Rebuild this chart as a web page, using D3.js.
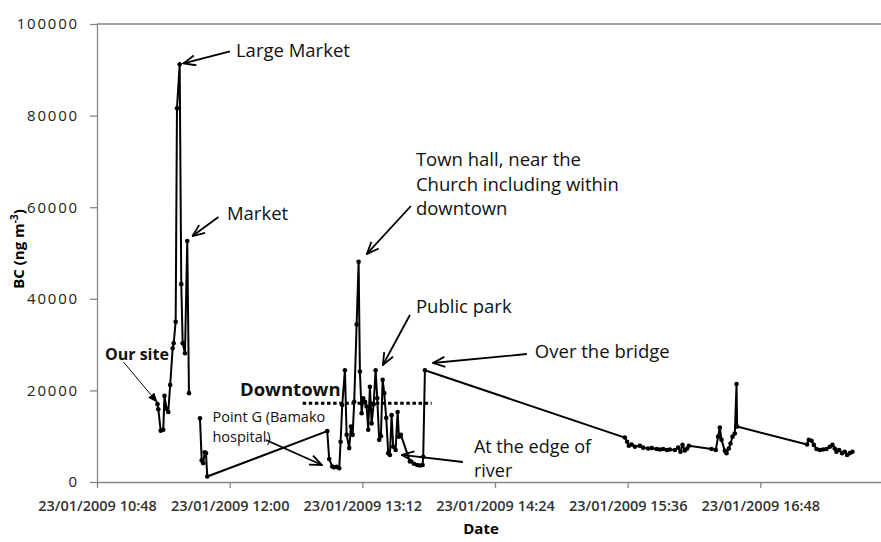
<!DOCTYPE html>
<html>
<head>
<meta charset="utf-8">
<script src="https://cdn.jsdelivr.net/npm/d3@7"></script>
<style>
  body { margin: 0; background: #fff; }
  text { font-family: "Open Sans", sans-serif; }
</style>
</head>
<body>
<div id="grafico"></div>
<script>
// BC measurements along the route, 23/01/2009 (null = gap in the record)
var horas = [
  "11:20:50","11:21:16","11:22:34","11:23:58","11:24:37","11:25:43","11:26:41","11:27:43","11:29:04","11:29:37",
  "11:30:42","11:31:24","11:32:52","11:33:44","11:34:30","11:35:45","11:36:59","11:37:55","11:40:00",
  "11:43:53","11:44:49","11:45:40","11:46:26","11:47:08","11:47:51",
  "12:52:57","12:54:02","12:55:40","12:56:35","12:58:03","12:59:28","13:00:13","13:01:05","13:02:33","13:03:29",
  "13:04:53","13:05:49","13:06:44","13:07:36","13:08:54","13:09:59","13:10:41","13:11:37","13:12:29","13:13:24",
  "13:14:20","13:15:12","13:16:07","13:17:03","13:18:08","13:19:13","13:20:05","13:21:10","13:22:05","13:23:01",
  "13:23:53","13:24:58","13:26:03","13:26:58","13:27:53","13:28:46","13:30:04","13:31:09","13:31:51","13:32:56",
  "13:37:49","13:39:59","13:41:47","13:43:15","13:44:43","13:45:02","13:45:58",
  "15:34:28","15:35:43","15:36:38","15:38:07","15:39:54","15:42:37","15:44:24","15:47:07","15:49:07","15:51:40",
  "15:53:28","15:55:15","15:57:16","15:58:53","16:01:36","16:03:23","16:04:41","16:05:47","16:07:02","16:08:17",
  "16:09:12","16:21:31","16:23:51","16:25:05","16:26:01","16:26:56","16:28:44","16:29:39","16:30:54","16:31:49",
  "16:32:54","16:34:09","16:35:05","16:35:24",
  "17:13:23","17:14:18","17:15:46","17:17:01","17:18:29","17:20:16","17:22:04","17:23:54","17:25:42","17:27:10",
  "17:28:24","17:29:20","17:30:44","17:32:22","17:33:50","17:35:05","17:36:33","17:38:01"
];
var bc = [
  17000,15900,11200,11400,18800,16000,15300,21200,29200,30300,
  35000,81600,91200,43200,30300,28100,52600,19400,null,
  13900,4700,4100,6500,6300,1200,
  11100,5000,3400,3200,3300,3000,8800,16800,24400,10300,
  7400,12100,10300,17500,34400,48100,24100,15000,18300,17500,
  16500,11400,20800,12800,17000,24400,18300,9200,10000,22300,
  19400,14000,6300,5900,14600,7700,7000,15300,9900,10300,
  4500,4000,3700,3600,3700,5500,24400,
  9700,8800,7900,8200,7700,7900,7500,7300,7400,7200,
  7100,7200,7000,7100,7000,7500,6600,8100,6900,7300,
  7900,7200,7000,9900,11900,9200,6800,6300,7300,8400,
  9900,10600,21400,12100,
  8200,9200,9000,8100,7200,7000,7100,7200,7700,8100,
  7300,6600,7000,6300,6600,5900,6300,6600
];

var ticksY = [0, 20000, 40000, 60000, 80000, 100000];
var ticksX = ["10:48:00","12:00:00","13:12:00","14:24:00","15:36:00","16:48:00"];
var diaLabel = "23/01/2009";

// annotations: text lines, anchor time/value, arrow from -> to (time, value)
var notas = [
  {linhas: ["Large Market"], t: "12:03:25", v: 93900, tam: 18.5, peso: 400, de: ["12:00:10", 94000], para: ["11:34:56", 91400]},
  {linhas: ["Market"], t: "11:58:32", v: 58300, tam: 18.5, peso: 400, de: ["11:53:55", 57860], para: ["11:39:49", 53700]},
  {linhas: ["Town hall, near the", "Church including within", "downtown"], t: "13:41:05", v: 70100, tam: 18.5, peso: 400, de: ["13:38:22", 60260], para: ["13:14:29", 49800]},
  {linhas: ["Public park"], t: "13:41:05", v: 38000, tam: 18.5, peso: 400, de: ["13:37:49", 36460], para: ["13:23:10", 25550]},
  {linhas: ["Over the bridge"], t: "14:45:38", v: 28170, tam: 18.5, peso: 400, de: ["14:41:18", 27950], para: ["13:50:18", 25980]},
  {linhas: ["At the edge of", "river"], t: "14:12:33", v: 7420, tam: 18, peso: 400, de: ["14:06:35", 4370], para: ["13:33:29", 5900]},
  {linhas: ["Point G (Bamako", "hospital)"], t: "11:50:40", v: 13870, tam: 14.5, peso: 400, de: ["12:19:41", 9170], para: ["12:50:05", 3710]},
  {linhas: ["Downtown"], t: "12:05:35", v: 19870, tam: 18.5, peso: 700},
  {linhas: ["Our site"], t: "10:52:20", v: 27510, tam: 16, peso: 700, de: ["11:02:23", 26200], para: ["11:20:33", 17470], fina: true}
];
var downtownLinha = {inicio: "12:39:36", fim: "13:49:36", v: 17200};

var W = 881, H = 542;
var parse = d3.timeParse("%H:%M:%S");

var x = d3.scaleTime()
  .domain([parse("10:48:00"), parse("18:00:00")])
  .range([97, 893]);
var y = d3.scaleLinear()
  .domain([0, 100000])
  .range([482, 24]);

var svg = d3.select("#grafico").append("svg")
  .attr("width", W)
  .attr("height", H);

var defs = svg.append("defs");
defs.append("marker")
  .attr("id", "aberta")
  .attr("viewBox", "0 0 14 12")
  .attr("refX", 13).attr("refY", 6)
  .attr("markerWidth", 14).attr("markerHeight", 12)
  .attr("markerUnits", "userSpaceOnUse")
  .attr("orient", "auto")
  .append("path")
  .attr("d", "M1,1 L13,6 L1,11")
  .attr("fill", "none")
  .attr("stroke", "#000")
  .attr("stroke-width", 1.8);
defs.append("marker")
  .attr("id", "cheia")
  .attr("viewBox", "0 0 10 8")
  .attr("refX", 9).attr("refY", 4)
  .attr("markerWidth", 10).attr("markerHeight", 8)
  .attr("markerUnits", "userSpaceOnUse")
  .attr("orient", "auto")
  .append("path")
  .attr("d", "M0,0 L10,4 L0,8 Z")
  .attr("fill", "#000");

// plot area border (top) + axes
svg.append("line")
  .attr("x1", 97).attr("x2", W).attr("y1", y(100000)).attr("y2", y(100000))
  .attr("stroke", "#868686").attr("stroke-width", 1.3);

var eixoY = svg.append("g")
  .attr("transform", "translate(97,0)")
  .call(d3.axisLeft(y).tickValues(ticksY).tickSizeInner(7).tickSizeOuter(0).tickPadding(11).tickFormat(d3.format("d")));
eixoY.selectAll("text")
  .style("font-size", "15px")
  .style("letter-spacing", "1.8px")
  .attr("fill", "#222");

var eixoX = svg.append("g")
  .attr("transform", "translate(0,482)")
  .call(d3.axisBottom(x).tickValues(ticksX.map(parse)).tickSizeInner(6).tickSizeOuter(0).tickPadding(13)
    .tickFormat(function(d) { return diaLabel + " " + d3.timeFormat("%H:%M")(d); }));
eixoX.selectAll("text")
  .style("font-size", "14.5px")
  .style("font-weight", 600)
  .attr("fill", "#333");

svg.selectAll(".domain, .tick line").attr("stroke", "#868686").attr("stroke-width", 1.3);

// axis titles
svg.append("text")
  .attr("x", 481).attr("y", 534)
  .attr("text-anchor", "middle")
  .style("font-size", "15px").style("font-weight", 700)
  .text("Date");

var tituloY = svg.append("text")
  .attr("transform", "translate(24,249) rotate(-90)")
  .attr("text-anchor", "middle")
  .style("font-size", "15px").style("font-weight", 700);
tituloY.append("tspan").text("BC (ng m");
tituloY.append("tspan").attr("dy", -6).style("font-size", "10px").text("-3");
tituloY.append("tspan").attr("dy", 6).text(")");

// data line
var dados = horas.map(function(h, i) { return {t: parse(h), v: bc[i]}; });

var linha = d3.line()
  .defined(function(d) { return d.v != null; })
  .x(function(d) { return x(d.t); })
  .y(function(d) { return y(d.v); });

svg.append("path")
  .datum(dados)
  .attr("d", linha)
  .attr("fill", "none")
  .attr("stroke", "#000")
  .attr("stroke-width", 2)
  .attr("stroke-linejoin", "round");

svg.selectAll(".ponto")
  .data(dados.filter(function(d) { return d.v != null; }))
  .enter().append("circle")
  .attr("class", "ponto")
  .attr("cx", function(d) { return x(d.t); })
  .attr("cy", function(d) { return y(d.v); })
  .attr("r", 2.3)
  .attr("fill", "#000");

// downtown dotted line
svg.append("line")
  .attr("x1", x(parse(downtownLinha.inicio))).attr("x2", x(parse(downtownLinha.fim)))
  .attr("y1", y(downtownLinha.v)).attr("y2", y(downtownLinha.v))
  .attr("stroke", "#000")
  .attr("stroke-width", 3)
  .attr("stroke-dasharray", "3.5,2.6");

// annotations
notas.forEach(function(n) {
  var tx = svg.append("text")
    .attr("x", x(parse(n.t)))
    .attr("y", y(n.v))
    .attr("dominant-baseline", "middle")
    .style("font-size", n.tam + "px")
    .style("font-weight", n.peso)
    .attr("fill", "#111");
  n.linhas.forEach(function(l, i) {
    tx.append("tspan")
      .attr("x", x(parse(n.t)))
      .attr("dy", i == 0 ? 0 : (n.tam * 1.33))
      .text(l);
  });
  if (n.de) {
    svg.append("line")
      .attr("x1", x(parse(n.de[0]))).attr("y1", y(n.de[1]))
      .attr("x2", x(parse(n.para[0]))).attr("y2", y(n.para[1]))
      .attr("stroke", "#000")
      .attr("stroke-width", n.fina ? 1 : 1.8)
      .attr("marker-end", n.fina ? "url(#cheia)" : "url(#aberta)");
  }
});
</script>
</body>
</html>
